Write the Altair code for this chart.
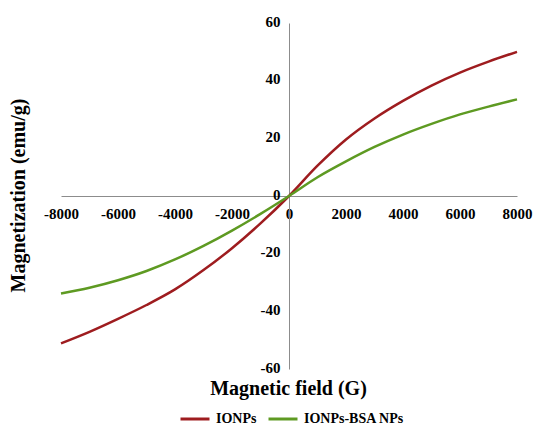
import altair as alt
import pandas as pd

# Magnetic field (G)
field = [-8000, -7000, -6000, -5000, -4000, -3000, -2000, -1000, 0,
         1000, 2000, 3000, 4000, 5000, 6000, 7000, 8000]
# Magnetization (emu/g)
ionps = [-51.1, -47.1, -42.6, -37.8, -32.4, -25.7, -18.1, -9.5, 0.0,
         10.5, 19.6, 26.9, 33.0, 38.3, 42.8, 46.6, 50.0]
ionps_bsa = [-33.8, -31.8, -29.2, -26.0, -22.0, -17.3, -12.0, -6.2, 0.0,
             6.5, 12.0, 17.0, 21.3, 25.0, 28.3, 31.0, 33.5]

series_names = ["IONPs", "IONPs-BSA NPs"]
series_colors = ["#9E1C1F", "#5E9A22"]
x_ticks = [-8000, -6000, -4000, -2000, 0, 2000, 4000, 6000, 8000]
y_ticks = [-60, -40, -20, 0, 20, 40, 60]

rows = []
for f, a, b in zip(field, ionps, ionps_bsa):
    rows.append({"field": f, "M": a, "series": series_names[0]})
    rows.append({"field": f, "M": b, "series": series_names[1]})
df = pd.DataFrame(rows)

W, H = 456, 346
FONT = "Liberation Serif"

chart = alt.Chart(df).mark_line(strokeWidth=2.5, interpolate="monotone").encode(
    x=alt.X("field:Q",
            scale=alt.Scale(domain=[-8000, 8000], nice=False, zero=False),
            axis=alt.Axis(values=x_ticks, grid=False, ticks=False, offset=-173,
                          labelExpr="datum.value + ''", labelFlush=False,
                          labelOverlap=False, labelBound=False,
                          labelPadding=10, labelFont=FONT, labelFontSize=15,
                          labelFontWeight="bold", labelColor="black",
                          domainColor="#8C8C8C", domainWidth=1,
                          title="Magnetic field (G)", titleFont=FONT, titleFontSize=20,
                          titleFontWeight="bold", titleColor="black",
                          titleX=227, titleY=192, titleBaseline="middle",
                          titleAnchor="middle")),
    y=alt.Y("M:Q",
            scale=alt.Scale(domain=[-60, 60], nice=False),
            axis=alt.Axis(values=y_ticks, grid=False, ticks=False, offset=-228,
                          labelExpr="datum.value + ''", labelFlush=False,
                          labelOverlap=False, labelBound=False,
                          labelPadding=9, labelFont=FONT, labelFontSize=15,
                          labelFontWeight="bold", labelColor="black", labelOffset=-2,
                          domainColor="#8C8C8C", domainWidth=1,
                          title="Magnetization (emu/g)", titleFont=FONT, titleFontSize=20,
                          titleFontWeight="bold", titleColor="black",
                          titleX=-271, titleY=172, titleAngle=-90,
                          titleBaseline="middle", titleAnchor="middle")),
    color=alt.Color("series:N",
                    scale=alt.Scale(domain=series_names, range=series_colors),
                    legend=alt.Legend(title=None, orient="none", direction="horizontal",
                                      legendX=118, legendY=380, padding=0,
                                      symbolType="stroke", symbolSize=841,
                                      symbolStrokeWidth=3, labelFont=FONT,
                                      labelFontSize=14, labelFontWeight="bold",
                                      labelColor="black", labelOffset=5,
                                      columnPadding=5)),
).properties(
    width=W, height=H,
    background="white",
    autosize=alt.AutoSizeParams(type="none"),
    padding={"left": 61, "top": 23, "right": 18, "bottom": 56},
).configure_view(stroke=None)

chart.save("out.html", embed_options={"renderer": "svg", "actions": False})
